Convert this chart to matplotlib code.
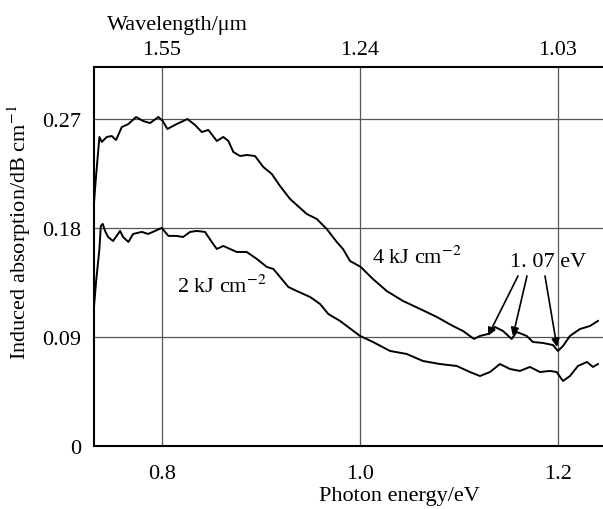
import matplotlib
matplotlib.use('Agg')
import matplotlib.pyplot as plt

plt.rcParams['font.family'] = ['Liberation Serif', 'DejaVu Serif']
plt.rcParams['mathtext.fontset'] = 'stix'

# photon energy (eV) and induced absorption (dB/cm)
energy_4kj = [0.7313, 0.7333, 0.7367, 0.7391, 0.7441, 0.7492, 0.7535, 0.7593, 0.7660, 0.7737,
              0.7808, 0.7879, 0.7963, 0.8007, 0.8054, 0.8148, 0.8256, 0.8333, 0.8401, 0.8468,
              0.8553, 0.8619, 0.8670, 0.8720, 0.8788, 0.8856, 0.8939, 0.9023, 0.9108, 0.9192,
              0.9293, 0.9394, 0.9462, 0.9563, 0.9664, 0.9765, 0.9828, 0.9899, 1.0007, 1.0131,
              1.0270, 1.0434, 1.0606, 1.0775, 1.0939, 1.1040, 1.1152, 1.1212, 1.1293, 1.1364,
              1.1444, 1.1532, 1.1583, 1.1684, 1.1747, 1.1848, 1.1949, 1.2000, 1.2051, 1.2121,
              1.2222, 1.2323, 1.2404]
absorb_4kj = [0.2015, 0.2230, 0.2552, 0.2511, 0.2552, 0.2560, 0.2527, 0.2634, 0.2659, 0.2717,
              0.2684, 0.2667, 0.2717, 0.2684, 0.2618, 0.2659, 0.2700, 0.2651, 0.2593, 0.2610,
              0.2519, 0.2552, 0.2519, 0.2428, 0.2395, 0.2403, 0.2395, 0.2304, 0.2247, 0.2147,
              0.2040, 0.1966, 0.1916, 0.1875, 0.1792, 0.1685, 0.1627, 0.1528, 0.1479, 0.1379,
              0.1280, 0.1198, 0.1132, 0.1066, 0.0991, 0.0950, 0.0884, 0.0909, 0.0925, 0.0983,
              0.0950, 0.0884, 0.0942, 0.0909, 0.0859, 0.0851, 0.0834, 0.0785, 0.0826, 0.0909,
              0.0966, 0.0991, 0.1033]

energy_2kj = [0.7313, 0.7333, 0.7367, 0.7381, 0.7401, 0.7424, 0.7455, 0.7505, 0.7576, 0.7606,
              0.7660, 0.7707, 0.7795, 0.7859, 0.7929, 0.7997, 0.8064, 0.8148, 0.8212, 0.8283,
              0.8350, 0.8434, 0.8502, 0.8553, 0.8619, 0.8687, 0.8755, 0.8856, 0.8957, 0.9058,
              0.9124, 0.9192, 0.9276, 0.9361, 0.9495, 0.9596, 0.9680, 0.9798, 1.0000, 1.0131,
              1.0303, 1.0472, 1.0636, 1.0808, 1.0977, 1.1111, 1.1212, 1.1313, 1.1414, 1.1515,
              1.1616, 1.1717, 1.1818, 1.1919, 1.1987, 1.2051, 1.2121, 1.2202, 1.2293, 1.2354,
              1.2404]
absorb_2kj = [0.1156, 0.1355, 0.1627, 0.1817, 0.1834, 0.1776, 0.1726, 0.1693, 0.1776, 0.1726,
              0.1685, 0.1751, 0.1768, 0.1751, 0.1776, 0.1801, 0.1735, 0.1735, 0.1726, 0.1768,
              0.1776, 0.1768, 0.1685, 0.1627, 0.1652, 0.1627, 0.1602, 0.1602, 0.1545, 0.1479,
              0.1462, 0.1396, 0.1313, 0.1280, 0.1231, 0.1173, 0.1090, 0.1033, 0.0909, 0.0859,
              0.0785, 0.0760, 0.0702, 0.0677, 0.0661, 0.0611, 0.0578, 0.0611, 0.0677, 0.0636,
              0.0620, 0.0653, 0.0611, 0.0620, 0.0611, 0.0537, 0.0578, 0.0661, 0.0694, 0.0653,
              0.0677]

energy_ticks = [0.8, 1.0, 1.2]
energy_labels = ['0.8', '1.0', '1.2']
wavelength_labels = ['1.55', '1.24', '1.03']
absorb_ticks = [0, 0.09, 0.18, 0.27]
absorb_labels = ['0', '0.09', '0.18', '0.27']

# dips marked with arrows (eV, dB/cm)
dip_x = [1.1293, 1.1545, 1.199]
dip_y = [0.0909, 0.0909, 0.0818]

fig = plt.figure(figsize=(6.03, 5.10), dpi=100)
ax = fig.add_axes([0.156, 0.1235, 0.844, 0.7432])

ax.plot(energy_4kj, absorb_4kj, color='black', lw=1.4)
ax.plot(energy_2kj, absorb_2kj, color='black', lw=1.4)

ax.set_xlim(0.7313, 1.2455)
ax.set_ylim(0, 0.313)
ax.set_xticks(energy_ticks)
ax.set_xticklabels(energy_labels)
ax.set_yticks(absorb_ticks)
ax.set_yticklabels(absorb_labels)
ax.tick_params(length=0, labelsize=16)
ax.tick_params(axis='x', pad=13)
ax.tick_params(axis='y', pad=9)
ax.grid(True, color='#555555', lw=0.9)
ax.set_axisbelow(True)

for s in ['left', 'bottom', 'top']:
    ax.spines[s].set_linewidth(1.5)
ax.spines['right'].set_visible(False)

ax.set_xlabel('Photon energy/eV', fontsize=16)
ax.xaxis.set_label_coords(0.6, -0.105)
ax.set_ylabel('Induced absorption/dB cm$^{-1}$', fontsize=16)
ax.yaxis.set_label_coords(-0.12, 0.567)

top = ax.twiny()
top.set_xlim(ax.get_xlim())
top.set_xticks(energy_ticks)
top.set_xticklabels(wavelength_labels)
top.tick_params(length=0, labelsize=16, pad=6)
for s in top.spines.values():
    s.set_visible(False)
top.set_xlabel('Wavelength/μm', fontsize=16)
top.xaxis.set_label_coords(0.163, 1.1)

ax.text(1.012, 0.156, '4 kJ cm$^{-2}$', fontsize=16, va='center', ha='left')
ax.text(0.815, 0.132, '2 kJ cm$^{-2}$', fontsize=16, va='center', ha='left')
ax.text(1.1515, 0.152, '1. 07 eV', fontsize=16, va='center', ha='left')
starts = [(1.1596, 0.1404), (1.1687, 0.1404), (1.1869, 0.1404)]
for (sx, sy), dx, dy in zip(starts, dip_x, dip_y):
    ax.annotate('', xy=(dx, dy), xytext=(sx, sy),
                arrowprops=dict(arrowstyle='-|>', color='black', lw=1.2,
                                mutation_scale=12, shrinkA=0, shrinkB=0))

fig.savefig('out.png', dpi=100)
